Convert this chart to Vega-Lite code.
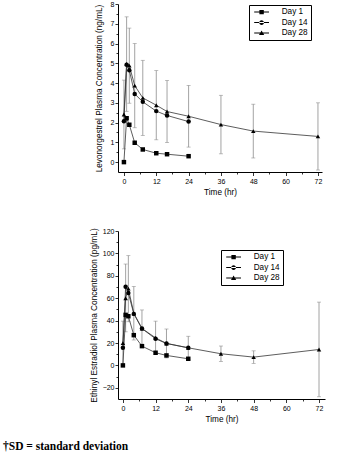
{
  "$schema": "https://vega.github.io/schema/vega-lite/v6.json",
  "padding": {"left": 3, "top": 0, "right": 0, "bottom": 0},
  "config": {
    "font": "Liberation Sans",
    "view": {"stroke": null},
    "axis": {
      "grid": false,
      "domainColor": "black",
      "domainWidth": 1,
      "tickColor": "black",
      "tickWidth": 0.8,
      "labelFont": "Liberation Sans",
      "labelFontSize": 7,
      "labelColor": "black",
      "titleFont": "Liberation Sans",
      "titleFontSize": 8.2,
      "titleFontWeight": "normal",
      "titleColor": "black",
      "labelOverlap": false,
      "labelFlush": false
    }
  },
  "datasets": {
    "lng": [
      {"t": 0, "day": "Day 1", "v": 0},
      {"t": 1, "day": "Day 1", "v": 2.22},
      {"t": 2, "day": "Day 1", "v": 1.89},
      {"t": 4, "day": "Day 1", "v": 0.98},
      {"t": 7, "day": "Day 1", "v": 0.64},
      {"t": 12, "day": "Day 1", "v": 0.45},
      {"t": 16, "day": "Day 1", "v": 0.40},
      {"t": 24, "day": "Day 1", "v": 0.30},
      {"t": 0, "day": "Day 14", "v": 2.07},
      {"t": 1, "day": "Day 14", "v": 4.93},
      {"t": 2, "day": "Day 14", "v": 4.65},
      {"t": 4, "day": "Day 14", "v": 3.45},
      {"t": 7, "day": "Day 14", "v": 3.05},
      {"t": 12, "day": "Day 14", "v": 2.58},
      {"t": 16, "day": "Day 14", "v": 2.36},
      {"t": 24, "day": "Day 14", "v": 2.05},
      {"t": 0, "day": "Day 28", "v": 2.41, "lo": 0.67, "hi": 4.15},
      {"t": 1, "day": "Day 28", "v": 4.97, "lo": 2.57, "hi": 7.35},
      {"t": 2, "day": "Day 28", "v": 4.88, "lo": 2.98, "hi": 6.78},
      {"t": 4, "day": "Day 28", "v": 3.87, "lo": 1.74, "hi": 6.0},
      {"t": 7, "day": "Day 28", "v": 3.25, "lo": 1.35, "hi": 5.15},
      {"t": 12, "day": "Day 28", "v": 2.88, "lo": 1.13, "hi": 4.63},
      {"t": 16, "day": "Day 28", "v": 2.56, "lo": 0.99, "hi": 4.13},
      {"t": 24, "day": "Day 28", "v": 2.32, "lo": 0.76, "hi": 3.88},
      {"t": 36, "day": "Day 28", "v": 1.9, "lo": 0.42, "hi": 3.38},
      {"t": 48, "day": "Day 28", "v": 1.57, "lo": 0.21, "hi": 2.93},
      {"t": 72, "day": "Day 28", "v": 1.3, "lo": -0.4, "hi": 3.0}
    ],
    "ee": [
      {"t": 0, "day": "Day 1", "v": 0},
      {"t": 1, "day": "Day 1", "v": 45.1},
      {"t": 2, "day": "Day 1", "v": 43.9},
      {"t": 4, "day": "Day 1", "v": 27},
      {"t": 7, "day": "Day 1", "v": 17.2},
      {"t": 12, "day": "Day 1", "v": 11.3},
      {"t": 16, "day": "Day 1", "v": 8.9},
      {"t": 24, "day": "Day 1", "v": 5.9},
      {"t": 0, "day": "Day 14", "v": 15.7},
      {"t": 1, "day": "Day 14", "v": 70.3},
      {"t": 2, "day": "Day 14", "v": 64.7},
      {"t": 4, "day": "Day 14", "v": 46},
      {"t": 7, "day": "Day 14", "v": 32.9},
      {"t": 12, "day": "Day 14", "v": 23.7},
      {"t": 16, "day": "Day 14", "v": 19.6},
      {"t": 24, "day": "Day 14", "v": 15.7},
      {"t": 0, "day": "Day 28", "v": 19.9, "lo": 0.3, "hi": 39.5},
      {"t": 1, "day": "Day 28", "v": 60, "lo": 30, "hi": 90.5},
      {"t": 2, "day": "Day 28", "v": 68.5, "lo": 39, "hi": 98},
      {"t": 4, "day": "Day 28", "v": 46.6, "lo": 22.7, "hi": 70.5},
      {"t": 7, "day": "Day 28", "v": 33, "lo": 16.5, "hi": 49.5},
      {"t": 12, "day": "Day 28", "v": 24.6, "lo": 9.7, "hi": 39.5},
      {"t": 16, "day": "Day 28", "v": 19.6, "lo": 6.7, "hi": 32.5},
      {"t": 24, "day": "Day 28", "v": 15.7, "lo": 5.4, "hi": 26},
      {"t": 36, "day": "Day 28", "v": 10.4, "lo": 3.5, "hi": 17.3},
      {"t": 48, "day": "Day 28", "v": 7.4, "lo": 1.8, "hi": 13},
      {"t": 72, "day": "Day 28", "v": 14.2, "lo": -28, "hi": 56.5}
    ]
  },
  "title": {
    "text": "†SD = standard deviation",
    "orient": "bottom",
    "anchor": "start",
    "frame": "group",
    "font": "Liberation Serif",
    "fontWeight": "bold",
    "fontSize": 11.5,
    "color": "black",
    "dx": -115,
    "offset": 18
  },
  "align": "none",
  "spacing": 31,
  "resolve": {
    "scale": {"x": "independent", "y": "independent", "shape": "independent"},
    "legend": {"shape": "independent"}
  },
  "vconcat": [
    {
      "width": 204,
      "height": 168,
      "data": {"name": "lng"},
      "resolve": {"scale": {"shape": "independent"}},
      "encoding": {
        "x": {
          "field": "t", "type": "quantitative", "title": "Time (hr)",
          "scale": {"domain": [-2.2, 73.5], "nice": false, "zero": false},
          "axis": {
            "values": [0, 6, 12, 18, 24, 30, 36, 42, 48, 54, 60, 66, 72],
            "labelExpr": "datum.value % 12 === 0 ? datum.label : ''",
            "tickSize": {"condition": {"test": "datum.value % 12 === 0", "value": 3.5}, "value": 2},
            "labelOverlap": false,
            "labelPadding": 2,
            "titlePadding": 4
          }
        }
      },
      "layer": [
        {
          "transform": [{"filter": "isValid(datum.lo)"}],
          "mark": {"type": "rule", "color": "#8c8c8c", "strokeWidth": 0.8},
          "encoding": {
            "y": {
              "field": "lo", "type": "quantitative",
              "title": "Levonorgestrel Plasma Concentration (ng/mL)",
              "scale": {"domain": [-0.5, 8], "nice": false, "zero": false},
              "axis": {
                "values": [0, 0.5, 1, 1.5, 2, 2.5, 3, 3.5, 4, 4.5, 5, 5.5, 6, 6.5, 7, 7.5, 8],
                "labelExpr": "datum.value % 1 === 0 ? format(datum.value, 'd') : ''",
                "tickSize": {"condition": {"test": "datum.value % 1 === 0", "value": 3}, "value": 2},
                "labelOverlap": false,
                "labelPadding": 1,
                "titlePadding": 7
              }
            },
            "y2": {"field": "hi"}
          }
        },
        {
          "transform": [{"filter": "isValid(datum.lo)"}],
          "mark": {"type": "tick", "orient": "horizontal", "size": 4, "thickness": 0.8, "color": "#8c8c8c"},
          "encoding": {"y": {"field": "lo", "type": "quantitative", "title": "Levonorgestrel Plasma Concentration (ng/mL)",
              "axis": {
                "values": [0, 0.5, 1, 1.5, 2, 2.5, 3, 3.5, 4, 4.5, 5, 5.5, 6, 6.5, 7, 7.5, 8],
                "labelExpr": "datum.value % 1 === 0 ? format(datum.value, 'd') : ''",
                "tickSize": {"condition": {"test": "datum.value % 1 === 0", "value": 3}, "value": 2},
                "labelOverlap": false,
                "labelPadding": 1,
                "titlePadding": 7
              }}}
        },
        {
          "transform": [{"filter": "isValid(datum.lo)"}],
          "mark": {"type": "tick", "orient": "horizontal", "size": 4, "thickness": 0.8, "color": "#8c8c8c"},
          "encoding": {"y": {"field": "hi", "type": "quantitative", "title": "Levonorgestrel Plasma Concentration (ng/mL)",
              "axis": {
                "values": [0, 0.5, 1, 1.5, 2, 2.5, 3, 3.5, 4, 4.5, 5, 5.5, 6, 6.5, 7, 7.5, 8],
                "labelExpr": "datum.value % 1 === 0 ? format(datum.value, 'd') : ''",
                "tickSize": {"condition": {"test": "datum.value % 1 === 0", "value": 3}, "value": 2},
                "labelOverlap": false,
                "labelPadding": 1,
                "titlePadding": 7
              }}}
        },
        {
          "mark": {"type": "line", "color": "#333333", "strokeWidth": 0.8},
          "encoding": {
            "y": {"field": "v", "type": "quantitative", "title": "Levonorgestrel Plasma Concentration (ng/mL)",
              "axis": {
                "values": [0, 0.5, 1, 1.5, 2, 2.5, 3, 3.5, 4, 4.5, 5, 5.5, 6, 6.5, 7, 7.5, 8],
                "labelExpr": "datum.value % 1 === 0 ? format(datum.value, 'd') : ''",
                "tickSize": {"condition": {"test": "datum.value % 1 === 0", "value": 3}, "value": 2},
                "labelOverlap": false,
                "labelPadding": 1,
                "titlePadding": 7
              }},
            "detail": {"field": "day", "type": "nominal"}
          }
        },
        {
          "mark": {"type": "point", "filled": true, "color": "black", "opacity": 1, "size": 20},
          "encoding": {
            "y": {"field": "v", "type": "quantitative", "title": "Levonorgestrel Plasma Concentration (ng/mL)",
              "axis": {
                "values": [0, 0.5, 1, 1.5, 2, 2.5, 3, 3.5, 4, 4.5, 5, 5.5, 6, 6.5, 7, 7.5, 8],
                "labelExpr": "datum.value % 1 === 0 ? format(datum.value, 'd') : ''",
                "tickSize": {"condition": {"test": "datum.value % 1 === 0", "value": 3}, "value": 2},
                "labelOverlap": false,
                "labelPadding": 1,
                "titlePadding": 7
              }},
            "shape": {
              "field": "day", "type": "nominal",
              "scale": {"domain": ["Day 1", "Day 14", "Day 28"], "range": ["square", "circle", "triangle-up"]},
              "legend": null
            }
          }
        },
        {
          "mark": {"type": "point", "filled": true, "color": "black", "opacity": 0, "size": 16},
          "encoding": {
            "y": {"field": "v", "type": "quantitative", "title": "Levonorgestrel Plasma Concentration (ng/mL)",
              "axis": {
                "values": [0, 0.5, 1, 1.5, 2, 2.5, 3, 3.5, 4, 4.5, 5, 5.5, 6, 6.5, 7, 7.5, 8],
                "labelExpr": "datum.value % 1 === 0 ? format(datum.value, 'd') : ''",
                "tickSize": {"condition": {"test": "datum.value % 1 === 0", "value": 3}, "value": 2},
                "labelOverlap": false,
                "labelPadding": 1,
                "titlePadding": 7
              }},
            "shape": {
              "field": "day", "type": "nominal",
              "scale": {"domain": ["Day 1", "Day 14", "Day 28"], "range": [
                "M-3.7,-0.25H3.7V0.25H-3.7Z M-1.1,-1.1H1.1V1.1H-1.1Z",
                "M-3.7,-0.25H3.7V0.25H-3.7Z M-1.2,0A1.2,1.2 0 1,0 1.2,0A1.2,1.2 0 1,0 -1.2,0Z",
                "M-3.7,-0.25H3.7V0.25H-3.7Z M0,-1.3L1.3,1L-1.3,1Z"
              ]},
              "legend": {
                "orient": "none", "legendX": 131, "legendY": 1,
                "title": null,
                "strokeColor": "black", "fillColor": "white",
                "padding": 3,
                "symbolOffset": 5.5,
                "labelOffset": 16,
                "symbolSize": 16,
                "symbolOpacity": 1,
                "labelFont": "Liberation Sans", "labelFontSize": 8.2, "labelColor": "black",
                "rowPadding": 1.5,
                "symbolFillColor": "black", "symbolStrokeWidth": 0
              }
            }
          }
        }
      ]
    },
    {
      "width": 207,
      "height": 168,
      "data": {"name": "ee"},
      "resolve": {"scale": {"shape": "independent"}},
      "encoding": {
        "x": {
          "field": "t", "type": "quantitative", "title": "Time (hr)",
          "scale": {"domain": [-1.8, 74.2], "nice": false, "zero": false},
          "axis": {
            "values": [0, 6, 12, 18, 24, 30, 36, 42, 48, 54, 60, 66, 72],
            "labelExpr": "datum.value % 12 === 0 ? datum.label : ''",
            "tickSize": {"condition": {"test": "datum.value % 12 === 0", "value": 3.5}, "value": 2},
            "labelOverlap": false,
            "labelPadding": 2,
            "titlePadding": 4
          }
        }
      },
      "layer": [
        {
          "transform": [{"filter": "isValid(datum.lo)"}],
          "mark": {"type": "rule", "color": "#8c8c8c", "strokeWidth": 0.8},
          "encoding": {
            "y": {
              "field": "lo", "type": "quantitative",
              "title": "Ethinyl Estradiol Plasma Concentration (pg/mL)",
              "scale": {"domain": [-30, 120], "nice": false, "zero": false},
              "axis": {
                "values": [-20, -10, 0, 10, 20, 30, 40, 50, 60, 70, 80, 90, 100, 110, 120],
                "labelExpr": "datum.value % 20 === 0 ? datum.label : ''",
                "tickSize": {"condition": {"test": "datum.value % 20 === 0", "value": 3}, "value": 2},
                "labelOverlap": false,
                "labelPadding": 1,
                "titlePadding": 3.5,
                "titleFontSize": 8.3
              }
            },
            "y2": {"field": "hi"}
          }
        },
        {
          "transform": [{"filter": "isValid(datum.lo)"}],
          "mark": {"type": "tick", "orient": "horizontal", "size": 4, "thickness": 0.8, "color": "#8c8c8c"},
          "encoding": {"y": {"field": "lo", "type": "quantitative", "title": "Ethinyl Estradiol Plasma Concentration (pg/mL)",
              "axis": {
                "values": [-20, -10, 0, 10, 20, 30, 40, 50, 60, 70, 80, 90, 100, 110, 120],
                "labelExpr": "datum.value % 20 === 0 ? datum.label : ''",
                "tickSize": {"condition": {"test": "datum.value % 20 === 0", "value": 3}, "value": 2},
                "labelOverlap": false,
                "labelPadding": 1,
                "titlePadding": 3.5,
                "titleFontSize": 8.3
              }}}
        },
        {
          "transform": [{"filter": "isValid(datum.lo)"}],
          "mark": {"type": "tick", "orient": "horizontal", "size": 4, "thickness": 0.8, "color": "#8c8c8c"},
          "encoding": {"y": {"field": "hi", "type": "quantitative", "title": "Ethinyl Estradiol Plasma Concentration (pg/mL)",
              "axis": {
                "values": [-20, -10, 0, 10, 20, 30, 40, 50, 60, 70, 80, 90, 100, 110, 120],
                "labelExpr": "datum.value % 20 === 0 ? datum.label : ''",
                "tickSize": {"condition": {"test": "datum.value % 20 === 0", "value": 3}, "value": 2},
                "labelOverlap": false,
                "labelPadding": 1,
                "titlePadding": 3.5,
                "titleFontSize": 8.3
              }}}
        },
        {
          "mark": {"type": "line", "color": "#333333", "strokeWidth": 0.8},
          "encoding": {
            "y": {"field": "v", "type": "quantitative", "title": "Ethinyl Estradiol Plasma Concentration (pg/mL)",
              "axis": {
                "values": [-20, -10, 0, 10, 20, 30, 40, 50, 60, 70, 80, 90, 100, 110, 120],
                "labelExpr": "datum.value % 20 === 0 ? datum.label : ''",
                "tickSize": {"condition": {"test": "datum.value % 20 === 0", "value": 3}, "value": 2},
                "labelOverlap": false,
                "labelPadding": 1,
                "titlePadding": 3.5,
                "titleFontSize": 8.3
              }},
            "detail": {"field": "day", "type": "nominal"}
          }
        },
        {
          "mark": {"type": "point", "filled": true, "color": "black", "opacity": 1, "size": 20},
          "encoding": {
            "y": {"field": "v", "type": "quantitative", "title": "Ethinyl Estradiol Plasma Concentration (pg/mL)",
              "axis": {
                "values": [-20, -10, 0, 10, 20, 30, 40, 50, 60, 70, 80, 90, 100, 110, 120],
                "labelExpr": "datum.value % 20 === 0 ? datum.label : ''",
                "tickSize": {"condition": {"test": "datum.value % 20 === 0", "value": 3}, "value": 2},
                "labelOverlap": false,
                "labelPadding": 1,
                "titlePadding": 3.5,
                "titleFontSize": 8.3
              }},
            "shape": {
              "field": "day", "type": "nominal",
              "scale": {"domain": ["Day 1", "Day 14", "Day 28"], "range": ["square", "circle", "triangle-up"]},
              "legend": null
            }
          }
        },
        {
          "mark": {"type": "point", "filled": true, "color": "black", "opacity": 0, "size": 16},
          "encoding": {
            "y": {"field": "v", "type": "quantitative", "title": "Ethinyl Estradiol Plasma Concentration (pg/mL)",
              "axis": {
                "values": [-20, -10, 0, 10, 20, 30, 40, 50, 60, 70, 80, 90, 100, 110, 120],
                "labelExpr": "datum.value % 20 === 0 ? datum.label : ''",
                "tickSize": {"condition": {"test": "datum.value % 20 === 0", "value": 3}, "value": 2},
                "labelOverlap": false,
                "labelPadding": 1,
                "titlePadding": 3.5,
                "titleFontSize": 8.3
              }},
            "shape": {
              "field": "day", "type": "nominal",
              "scale": {"domain": ["Day 1", "Day 14", "Day 28"], "range": [
                "M-3.7,-0.25H3.7V0.25H-3.7Z M-1.1,-1.1H1.1V1.1H-1.1Z",
                "M-3.7,-0.25H3.7V0.25H-3.7Z M-1.2,0A1.2,1.2 0 1,0 1.2,0A1.2,1.2 0 1,0 -1.2,0Z",
                "M-3.7,-0.25H3.7V0.25H-3.7Z M0,-1.3L1.3,1L-1.3,1Z"
              ]},
              "legend": {
                "orient": "none", "legendX": 103, "legendY": 19,
                "title": null,
                "strokeColor": "black", "fillColor": "white",
                "padding": 3,
                "symbolOffset": 5.5,
                "labelOffset": 16,
                "symbolSize": 16,
                "symbolOpacity": 1,
                "labelFont": "Liberation Sans", "labelFontSize": 8.2, "labelColor": "black",
                "rowPadding": 1.5,
                "symbolFillColor": "black", "symbolStrokeWidth": 0
              }
            }
          }
        }
      ]
    }
  ]
}
